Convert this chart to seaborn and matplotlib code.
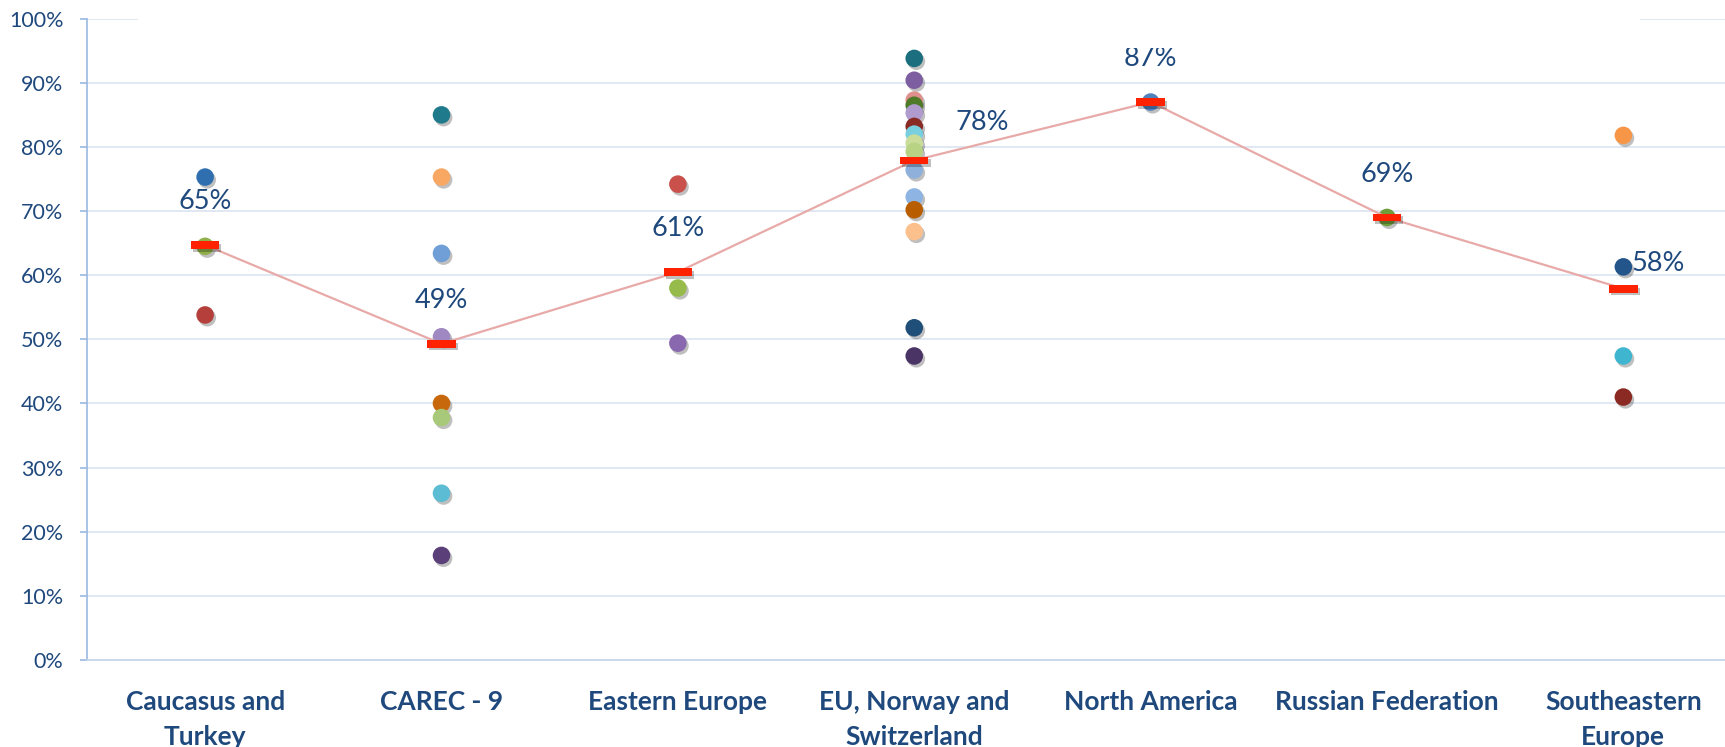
import numpy as np
import pandas as pd
import matplotlib.pyplot as plt
import matplotlib.patheffects as pe
import seaborn as sns

categories = ['Caucasus and\nTurkey', 'CAREC - 9', 'Eastern Europe', 'EU, Norway and\nSwitzerland',
              'North America', 'Russian Federation', 'Southeastern\nEurope']

caucasus_vals = [75.3, 64.5, 53.8]
caucasus_cols = ['#2f6fb0', '#8fb04a', '#b5403b']
carec_vals = [85.0, 75.3, 63.4, 50.4, 40.0, 37.8, 26.0, 16.3]
carec_cols = ['#1f7a8c', '#f8a862', '#6f9fd6', '#a088c2', '#c8680c', '#a9c97a', '#5bbcd3', '#5a3f78']
eastern_vals = [74.2, 58.0, 49.4]
eastern_cols = ['#c9504b', '#97bb4a', '#8a68b0']
eu_vals = [93.8, 90.4, 87.3, 86.5, 85.3, 83.2, 82.0, 80.6, 79.3, 76.4, 72.2, 70.2, 66.8, 51.8, 47.4]
eu_cols = ['#1b6e7e', '#7d5ea0', '#e0908c', '#4f7a28', '#b09bcf', '#8a2a25', '#78cfe0', '#c9dc9a',
           '#b7d383', '#8fb0da', '#8eb4e3', '#b85e00', '#fbc08c', '#1f4e79', '#4a3466']
na_vals = [87.0]
na_cols = ['#4f81bd']
russia_vals = [69.0]
russia_cols = ['#6f9d3a']
se_vals = [81.8, 61.3, 47.4, 41.0]
se_cols = ['#f79646', '#24558a', '#3fb5cf', '#8b2a22']

averages = [64.7, 49.3, 60.5, 77.9, 87.0, 69.0, 57.9]
avg_labels = ['65%', '49%', '61%', '78%', '87%', '69%', '58%']

groups = [(caucasus_vals, caucasus_cols), (carec_vals, carec_cols), (eastern_vals, eastern_cols),
          (eu_vals, eu_cols), (na_vals, na_cols), (russia_vals, russia_cols), (se_vals, se_cols)]

rows = []
for i, (vals, cols) in enumerate(groups):
    for v, c in zip(vals, cols):
        rows.append({'x': i, 'value': v, 'color': c, 'id': len(rows)})
df = pd.DataFrame(rows)
avg_df = pd.DataFrame({'x': range(len(categories)), 'value': averages})

text_blue = '#1f497d'
grid_blue = '#dce6f2'

sns.set_theme(style='white')
plt.rcParams['font.family'] = ['Lato', 'DejaVu Sans']

fig = plt.figure(figsize=(17.25, 7.47), dpi=100)
ax = fig.add_axes([0.0504, 0.1165, 0.9496, 0.8585])

shadow = [pe.SimplePatchShadow(offset=(1.5, -2), alpha=0.25, shadow_rgbFace='black'), pe.Normal()]

sns.scatterplot(data=df, x='x', y='value', hue='id', palette=list(df['color']), s=160,
                edgecolor='none', legend=False, ax=ax, zorder=3)
ax.collections[-1].set_path_effects(shadow)

sns.lineplot(data=avg_df, x='x', y='value', color='#e8aaa8', lw=1.6, ax=ax, zorder=4)

bar_marker = [(-1, -0.27), (1, -0.27), (1, 0.27), (-1, 0.27), (-1, -0.27)]
sns.scatterplot(data=avg_df, x='x', y='value', marker=bar_marker, s=420, color='#ff2200',
                edgecolor='none', legend=False, ax=ax, zorder=5)
ax.collections[-1].set_path_effects(shadow)

offsets = [(0, 22), (0, 22), (0, 22), (49, 18), (0, 22), (0, 22), (25, 9)]
for i, (lab, off) in enumerate(zip(avg_labels, offsets)):
    ax.annotate(lab, (i, averages[i]), xytext=off, textcoords='offset points',
                ha='center', va='bottom', fontsize=19.5, color=text_blue, zorder=6)

ax.set_xlim(-0.5, 6.43)
ax.set_ylim(0, 100)
ax.set_yticks(np.arange(0, 101, 10))
ax.set_yticklabels([f'{t}%' for t in range(0, 101, 10)])
ax.set_xticks(range(len(categories)))
ax.set_xticklabels(categories, fontsize=19, fontweight='bold', color=text_blue, linespacing=1.57)
ax.tick_params(axis='y', labelsize=15.5, labelcolor=text_blue, length=5, color='#9dbbe0', pad=12, left=True)
ax.tick_params(axis='x', length=0, pad=21.5)
ax.set_xlabel('')
ax.set_ylabel('')

ax.yaxis.grid(True, color=grid_blue, lw=1.3)
ax.set_axisbelow(True)
for side in ['top', 'right']:
    ax.spines[side].set_visible(False)
ax.spines['left'].set_color('#9dbbe0')
ax.spines['bottom'].set_color('#c5d5ea')

# title box hides the middle of the top gridline and the top of the 87% label
ax.add_patch(plt.Rectangle((0.031, 0.954), 0.917, 0.1, transform=ax.transAxes,
                           facecolor='white', edgecolor='none', clip_on=False, zorder=7))

fig.savefig('out.png', dpi=100)
plt.close()
